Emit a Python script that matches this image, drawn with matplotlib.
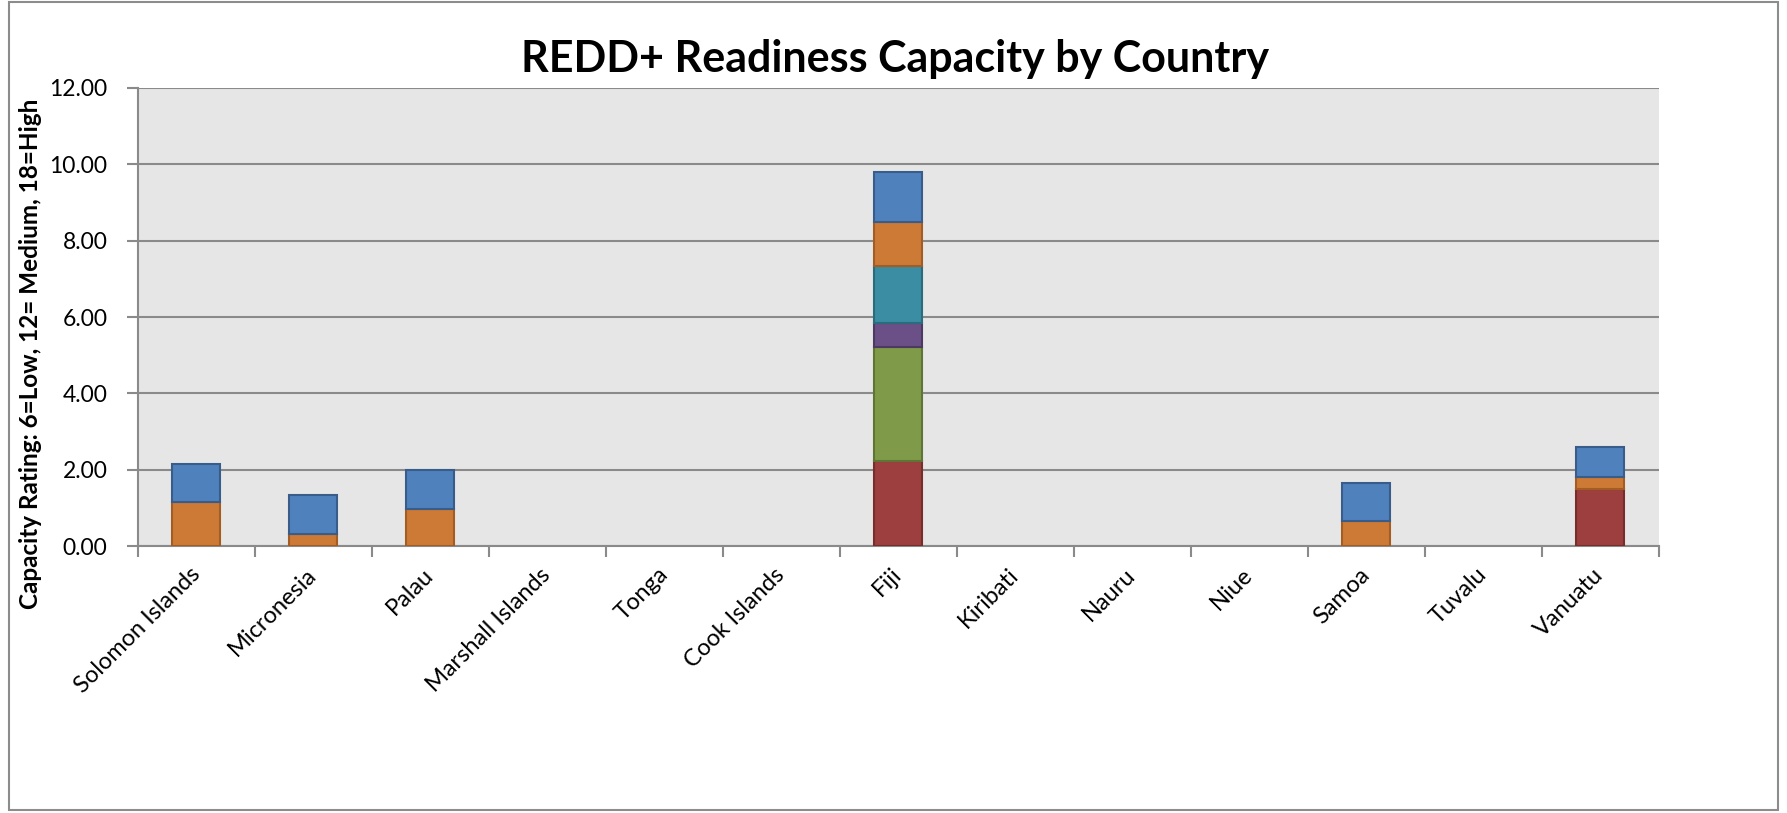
import matplotlib.pyplot as plt
import numpy as np
from matplotlib.patches import Rectangle

# Countries on the category axis
countries = ['Solomon Islands', 'Micronesia', 'Palau', 'Marshall Islands', 'Tonga',
             'Cook Islands', 'Fiji', 'Kiribati', 'Nauru', 'Niue', 'Samoa', 'Tuvalu', 'Vanuatu']

# Stacked segments, bottom to top
seg_red    = [0, 0, 0, 0, 0, 0, 2.24, 0, 0, 0, 0, 0, 1.49]
seg_green  = [0, 0, 0, 0, 0, 0, 2.98, 0, 0, 0, 0, 0, 0]
seg_purple = [0, 0, 0, 0, 0, 0, 0.63, 0, 0, 0, 0, 0, 0]
seg_teal   = [0, 0, 0, 0, 0, 0, 1.49, 0, 0, 0, 0, 0, 0]
seg_orange = [1.16, 0.33, 0.99, 0, 0, 0, 1.16, 0, 0, 0, 0.66, 0, 0.33]
seg_blue   = [0.99, 1.01, 1.01, 0, 0, 0, 1.29, 0, 0, 0, 1.01, 0, 0.78]

series = [
    (seg_red, '#9C3F3E', '#762D2C'),
    (seg_green, '#7F9A48', '#5E7535'),
    (seg_purple, '#6A5087', '#4C3A63'),
    (seg_teal, '#3A8DA2', '#2A6C7E'),
    (seg_orange, '#CC7A36', '#A35C22'),
    (seg_blue, '#4F81BD', '#385D8A'),
]

plt.rcParams['font.family'] = ['Lato', 'DejaVu Sans']

fig = plt.figure(figsize=(17.87, 8.13), dpi=100)
ax = fig.add_axes([0.0772, 0.328, 0.851, 0.564])
ax.set_facecolor('#E6E6E6')

x = np.arange(len(countries))
bottom = np.zeros(len(countries))
for vals, face, edge in series:
    vals = np.array(vals)
    mask = vals > 0
    ax.bar(x[mask], vals[mask], bottom=bottom[mask], width=0.41,
           color=face, edgecolor=edge, linewidth=1.5, zorder=3)
    bottom += vals

ax.set_xlim(-0.5, len(countries) - 0.5)
ax.set_ylim(0, 12)
ax.set_yticks(np.arange(0, 12.1, 2))
ax.set_yticklabels([f'{v:.2f}' for v in np.arange(0, 12.1, 2)], fontsize=16.5)
ax.grid(axis='y', color='#8A8A8A', linewidth=1.5, zorder=1)

ax.set_xticks(x)
ax.set_xticklabels(countries, fontsize=17, rotation=45, ha='right',
                   rotation_mode='anchor', va='center')
ax.set_xticks(np.arange(-0.5, len(countries)), minor=True)
ax.tick_params(axis='x', which='major', length=0, pad=18)
ax.tick_params(axis='x', which='minor', length=8, width=1.5, color='#8A8A8A', direction='out')
ax.tick_params(axis='y', length=8, width=1.5, color='#8A8A8A', pad=14)

for s in ['top', 'right']:
    ax.spines[s].set_visible(False)
for s in ['left', 'bottom']:
    ax.spines[s].set_color('#8A8A8A')
    ax.spines[s].set_linewidth(1.5)

ax.set_ylabel('Capacity Rating: 6=Low, 12= Medium, 18=High', fontsize=17.5,
              fontweight='bold')
ax.yaxis.set_label_coords(-0.063, 0.42)

fig.text(0.501, 0.927, 'REDD+ Readiness Capacity by Country', fontsize=31,
         fontweight='bold', ha='center', va='center')

fig.patches.append(Rectangle((0.005, 0.004), 0.99, 0.993, transform=fig.transFigure,
                             fill=False, edgecolor='#8C8C8C', linewidth=1.5))

fig.savefig('out.png', dpi=100)
